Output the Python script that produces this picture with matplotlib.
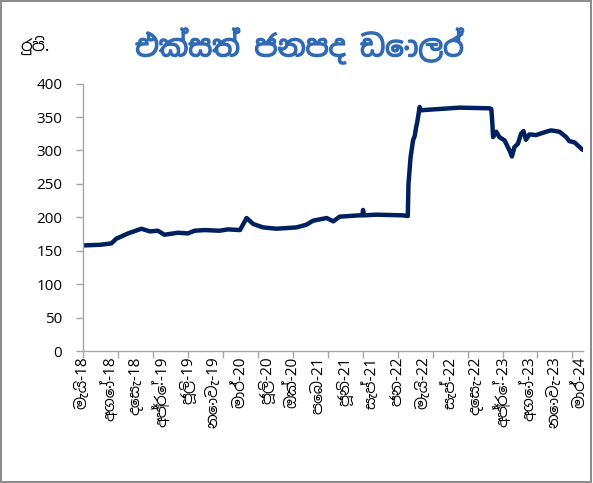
import matplotlib
matplotlib.use("Agg")

import matplotlib.font_manager as fm
import matplotlib.patheffects as pe
import matplotlib.pyplot as plt
from matplotlib.ft2font import FT2Font
from matplotlib.patches import Rectangle

# daily series indexed by trading day (0 = start of May 2018)
day_idx = [0, 49, 81, 95, 129, 167, 191, 214, 233, 271, 300, 319, 348, 391,
           414, 449, 468, 487, 515, 553, 611, 639, 658, 697, 716, 734, 790,
           799, 801, 804, 839, 915, 929, 931, 937, 944, 949, 953, 956, 963,
           966, 991, 1077, 1163, 1168, 1171, 1173, 1182, 1191, 1206, 1220,
           1227, 1234, 1244, 1253, 1260, 1267, 1277, 1296, 1325, 1339, 1363,
           1382, 1391, 1406, 1429]
usd_rate = [158, 159, 161, 168, 176, 183, 179, 180, 174, 177, 176, 180, 181,
            180, 182, 181, 199, 190, 185, 183, 185, 189, 195, 199, 194, 201,
            203, 203, 211, 203, 204, 203, 202, 250, 290, 315, 322, 335, 342,
            365, 360, 361, 364, 363, 362, 340, 320, 328, 320, 315, 300, 291,
            305, 310, 325, 329, 316, 324, 323, 328, 330, 328, 320, 314, 312,
            301]

month_labels = ["මැයි-18", "අගෝ-18", "දෙසැ-18", "අප්\u200dරේ-19", "ජූලි-19",
                "නොවැ-19", "මාර්-20", "ජූලි-20", "ඔක්-20", "පෙබ-21",
                "ජූනි-21", "සැප්-21", "ජන-22", "මැයි-22", "සැප්-22",
                "දෙසැ-22", "අප්\u200dරේ-23", "අගෝ-23", "නොවැ-23", "මාර්-24"]
label_step = 75   # a label every 75 trading days
tick_step = 100   # tick marks every 100 trading days

title_text = "එක්සත් ජනපද ඩොලර්"
unit_text = "රුපි."


def _font_with(ch):
    """Return the first installed family that has a glyph for ch."""
    fonts = sorted(fm.fontManager.ttflist,
                   key=lambda f: 0 if "Sinhala" in f.name else 1)
    for f in fonts:
        try:
            if ord(ch) in FT2Font(f.fname).get_charmap():
                return f.name
        except Exception:
            continue
    return None


_si = _font_with("ක")
SI_FAMILY = ([_si] if _si else []) + ["Open Sans", "DejaVu Sans"]

plt.rcParams["font.family"] = ["Open Sans", "DejaVu Sans"]

AXIS_GREY = "#a6a6a6"
LINE_BLUE = "#002060"
TITLE_BLUE = "#306ab4"

fig = plt.figure(figsize=(5.93, 4.83), dpi=100)
ax = fig.add_axes([0.14, 0.273, 0.843, 0.554])

ax.plot(day_idx, usd_rate, color=LINE_BLUE, linewidth=3.2,
        solid_joinstyle="round", solid_capstyle="round")

ax.set_xlim(0, 1430)
ax.set_ylim(0, 400)
ax.set_yticks(range(0, 401, 50))

# tick marks and date labels sit on different grids
ax.xaxis.remove_overlapping_locs = False
ax.set_xticks(range(0, 1430, tick_step))
ax.set_xticklabels([])
ax.set_xticks([label_step * i for i in range(len(month_labels))], minor=True)
ax.set_xticklabels(month_labels, minor=True, rotation=90,
                   family=SI_FAMILY, fontsize=11)
ax.tick_params(axis="x", which="major", length=5, width=1, color=AXIS_GREY)
ax.tick_params(axis="x", which="minor", length=0, pad=4)
ax.tick_params(axis="y", length=5, width=1, color=AXIS_GREY,
               labelsize=11, pad=10)

for side in ("top", "right"):
    ax.spines[side].set_visible(False)
for side in ("left", "bottom"):
    ax.spines[side].set_color(AXIS_GREY)
    ax.spines[side].set_linewidth(1)

fig.text(0.035, 0.905, unit_text, family=SI_FAMILY, fontsize=12,
         ha="left", va="center")
# the Sinhala face has no bold cut, so thicken the strokes a little
fig.text(0.505, 0.905, title_text, family=SI_FAMILY, fontsize=21,
         fontweight="bold", color=TITLE_BLUE, ha="center", va="center",
         path_effects=[pe.withStroke(linewidth=1.0, foreground=TITLE_BLUE)])

# thin grey frame round the whole chart
fig.patches.append(Rectangle((0.002, 0.003), 0.995, 0.994,
                             transform=fig.transFigure, fill=False,
                             edgecolor="#8c8c8c", linewidth=1.5))

fig.savefig("out.png", dpi=100)
